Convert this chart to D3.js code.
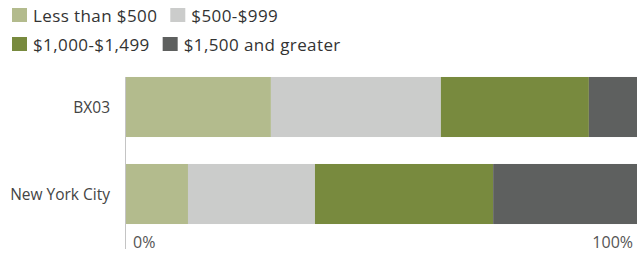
<!DOCTYPE html>
<html><head><meta charset="utf-8">
<script src="https://cdn.jsdelivr.net/npm/d3@7"></script>
<style>body{margin:0;background:#fff}svg{display:block}text{font-family:"Open Sans",sans-serif}</style>
</head><body><svg id="c" width="637" height="253"></svg>
<script>
const categories = ["BX03", "New York City"];
const seriesNames = ["Less than $500", "$500-$999", "$1,000-$1,499", "$1,500 and greater"];
const lessThan500 = [28.5, 12.3];
const from500to999 = [33.2, 24.8];
const from1000to1499 = [28.9, 34.8];
const from1500up = [9.4, 28.1];
const tickLabels = ["0%", "100%"];
const colors = ["#b3bb8d", "#cbcccb", "#788a3e", "#5e605f"];

const svg = d3.select("#c");
const W = 637, H = 253;
const m = {left: 125, right: 0, top: 77, bottom: 29};
const x = d3.scaleLinear().domain([0, 100]).range([m.left, W - m.right]);
const y = d3.scaleBand().domain(categories).range([m.top - 13.5, 224 + 13.5]).paddingInner(0.31).paddingOuter(0.155);

const rows = categories.map((c, i) => {
  const o = {cat: c};
  o[seriesNames[0]] = lessThan500[i];
  o[seriesNames[1]] = from500to999[i];
  o[seriesNames[2]] = from1000to1499[i];
  o[seriesNames[3]] = from1500up[i];
  return o;
});
const stack = d3.stack().keys(seriesNames)(rows);

const g = svg.append("g");
stack.forEach((s, k) => {
  g.selectAll(null).data(s).enter().append("rect")
    .attr("x", d => x(d[0]))
    .attr("width", d => x(d[1]) - x(d[0]))
    .attr("y", d => y(d.data.cat))
    .attr("height", y.bandwidth())
    .attr("fill", colors[k]);
});

// axis line
svg.append("line").attr("x1", m.left + 0.5).attr("x2", m.left + 0.5)
  .attr("y1", 77).attr("y2", 249).attr("stroke", "#c4c4c4").attr("stroke-width", 1);

// category labels
svg.selectAll(null).data(categories).enter().append("text")
  .attr("x", 110).attr("y", d => y(d) + y.bandwidth() / 2 + 5.5)
  .attr("text-anchor", "end").attr("font-size", 15.5).attr("fill", "#444")
  .text(d => d);

// tick labels
svg.append("text").attr("x", x(0) + 8).attr("y", 248).attr("font-size", 16).attr("fill", "#555").text(tickLabels[0]);
svg.append("text").attr("x", x(100) - 4).attr("y", 248).attr("text-anchor", "end").attr("font-size", 16).attr("fill", "#555").text(tickLabels[1]);

// legend
const legendRows = [[0, 1], [2, 3]];
legendRows.forEach((r, ri) => {
  let cx = 12;
  const yTop = 8 + ri * 29;
  r.forEach(k => {
    svg.append("rect").attr("x", cx).attr("y", yTop).attr("width", 15).attr("height", 14).attr("fill", colors[k]);
    const t = svg.append("text").attr("x", cx + 21).attr("y", yTop + 14).attr("font-size", 17)
      .attr("letter-spacing", 0.4).attr("fill", "#333").text(seriesNames[k]);
    cx += 21 + t.node().getComputedTextLength() + 13;
  });
});
</script></body></html>
